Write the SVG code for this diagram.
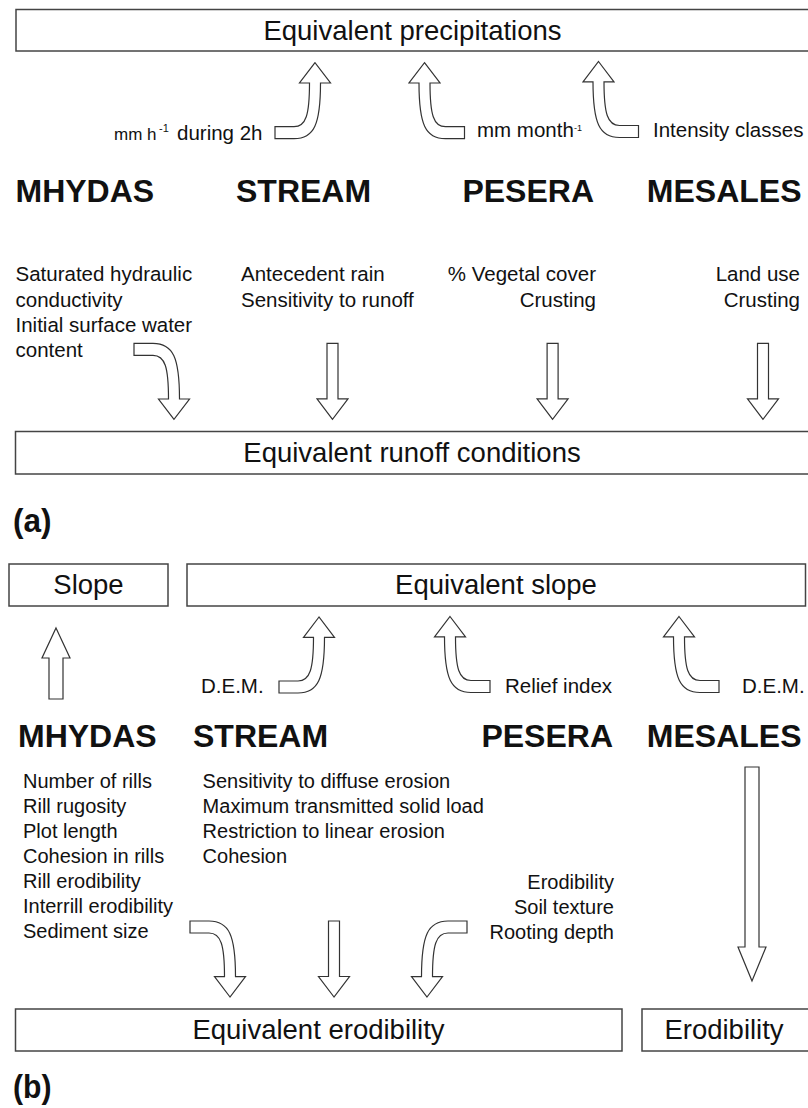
<svg xmlns="http://www.w3.org/2000/svg" xmlns:xlink="http://www.w3.org/1999/xlink" width="808" height="1108" viewBox="0 0 808 1108">
<style>
.box{fill:#fff;stroke:#444;stroke-width:1.5}
.arr{fill:#fff;stroke:#333;stroke-width:1.2;stroke-linejoin:miter}
text{font-family:"Liberation Sans",Arial,sans-serif;fill:#111}
.title{font-size:27.5px}
.model{font-size:32px;font-weight:bold}
.lbl{font-size:20.5px}
.lst{font-size:20px}
.tag{font-size:34px;font-weight:bold}
</style>
<defs>
<path id="cu" d="M0,0 L15.5,20.3 L5.5,20.3 C5.5,52 9,64 21,64 L40,64 L40,76 L21,76 C1,76 -5.5,62 -5.5,20.3 L-15.5,20.3 Z"/>
<path id="sd" d="M0,0 L-15.5,-20.5 L-5.5,-20.5 L-5.5,-76 L5.5,-76 L5.5,-20.5 L15.5,-20.5 Z"/>
</defs>
<rect width="808" height="1108" fill="#fff"/>

<g id="box-precip"><rect class="box" x="16" y="9.5" width="800" height="41.5"/><text class="title" x="412.5" y="40" text-anchor="middle">Equivalent precipitations</text></g>
<g id="box-runoff"><rect class="box" x="15.5" y="431.5" width="800" height="42.5"/><text class="title" x="412" y="461.5" text-anchor="middle">Equivalent runoff conditions</text></g>
<g id="box-slope"><rect class="box" x="9" y="564" width="159" height="42"/><text class="title" x="88.5" y="594" text-anchor="middle">Slope</text></g>
<g id="box-eqslope"><rect class="box" x="187" y="564" width="618.5" height="42"/><text class="title" x="496" y="594" text-anchor="middle">Equivalent slope</text></g>
<g id="box-eqerod"><rect class="box" x="15.5" y="1009" width="606.5" height="42"/><text class="title" x="318.5" y="1039" text-anchor="middle">Equivalent erodibility</text></g>
<g id="box-erod"><rect class="box" x="642" y="1009" width="170" height="42"/><text class="title" x="724" y="1039" text-anchor="middle">Erodibility</text></g>

<g id="models-a">
<text class="model" x="15.5" y="202">MHYDAS</text>
<text class="model" x="236" y="202">STREAM</text>
<text class="model" x="594" y="202" text-anchor="end">PESERA</text>
<text class="model" x="801.5" y="202" text-anchor="end">MESALES</text>
</g>
<g id="params-a">
<text class="lbl" x="15.5" y="281">Saturated hydraulic</text>
<text class="lbl" x="15.5" y="307">conductivity</text>
<text class="lbl" x="15.5" y="332">Initial surface water</text>
<text class="lbl" x="15.5" y="357">content</text>
<text class="lbl" x="241" y="281">Antecedent rain</text>
<text class="lbl" x="241" y="307">Sensitivity to runoff</text>
<text class="lbl" x="596" y="281" text-anchor="end">% Vegetal cover</text>
<text class="lbl" x="596" y="307" text-anchor="end">Crusting</text>
<text class="lbl" x="800" y="281" text-anchor="end">Land use</text>
<text class="lbl" x="800" y="307" text-anchor="end">Crusting</text>
</g>
<text id="tag-a" class="tag" x="13" y="532" textLength="38.5" lengthAdjust="spacingAndGlyphs">(a)</text>

<g id="models-b">
<text class="model" x="18" y="747">MHYDAS</text>
<text class="model" x="193" y="747">STREAM</text>
<text class="model" x="613" y="747" text-anchor="end">PESERA</text>
<text class="model" x="801.5" y="747" text-anchor="end">MESALES</text>
</g>
<g id="params-b">
<text class="lst" x="23" y="787.7">Number of rills</text>
<text class="lst" x="23" y="812.7">Rill rugosity</text>
<text class="lst" x="23" y="837.5">Plot length</text>
<text class="lst" x="23" y="862.5">Cohesion in rills</text>
<text class="lst" x="23" y="887.5">Rill erodibility</text>
<text class="lst" x="23" y="912.5">Interrill erodibility</text>
<text class="lst" x="23" y="937.5">Sediment size</text>
<text class="lst" x="202.6" y="787.7">Sensitivity to diffuse erosion</text>
<text class="lst" x="202.6" y="812.7">Maximum transmitted solid load</text>
<text class="lst" x="202.6" y="837.5">Restriction to linear erosion</text>
<text class="lst" x="202.6" y="862.5">Cohesion</text>
<text class="lst" x="614" y="888.5" text-anchor="end">Erodibility</text>
<text class="lst" x="614" y="913.5" text-anchor="end">Soil texture</text>
<text class="lst" x="614" y="938.5" text-anchor="end">Rooting depth</text>
</g>
<text id="tag-b" class="tag" x="13" y="1098" textLength="38.5" lengthAdjust="spacingAndGlyphs">(b)</text>

<g id="connectors">
<use class="arr" xlink:href="#cu" href="#cu" transform="translate(315,62.7) scale(-1,1)"/>
<use class="arr" xlink:href="#cu" href="#cu" transform="translate(424.5,62.7)"/>
<use class="arr" xlink:href="#cu" href="#cu" transform="translate(598.5,61.5)"/>
<use class="arr" xlink:href="#cu" href="#cu" transform="translate(174,419.3) scale(-1,-1)"/>
<use class="arr" xlink:href="#sd" href="#sd" transform="translate(332.5,419.3)"/>
<use class="arr" xlink:href="#sd" href="#sd" transform="translate(552.6,419.3)"/>
<use class="arr" xlink:href="#sd" href="#sd" transform="translate(763,419.3)"/>
<path class="arr" d="M56,628 L70,658 L63,658 L63,699 L49,699 L49,658 L42,658 Z"/>
<use class="arr" xlink:href="#cu" href="#cu" transform="translate(319,617) scale(-1,1)"/>
<use class="arr" xlink:href="#cu" href="#cu" transform="translate(450,616.5)"/>
<use class="arr" xlink:href="#cu" href="#cu" transform="translate(679,616.5)"/>
<path class="arr" d="M752,981 L738,947 L745,947 L745,767 L759,767 L759,947 L766,947 Z"/>
<use class="arr" xlink:href="#cu" href="#cu" transform="translate(230,997) scale(-1,-1)"/>
<use class="arr" xlink:href="#sd" href="#sd" transform="translate(334,997)"/>
<use class="arr" xlink:href="#cu" href="#cu" transform="translate(427,997) scale(1,-1)"/>
<g id="arrow-labels">
<text x="114" y="140" font-size="17">mm h</text>
<text x="159" y="132" font-size="11">-1</text>
<text class="lbl" x="177" y="140">during 2h</text>
<text class="lbl" x="477" y="137">mm month</text>
<text x="574" y="131" font-size="9">-1</text>
<text class="lbl" x="653" y="137">Intensity classes</text>
<text class="lbl" x="201" y="693">D.E.M.</text>
<text class="lbl" x="505" y="693">Relief index</text>
<text class="lbl" x="742" y="693">D.E.M.</text>
</g>
</g>
</svg>
